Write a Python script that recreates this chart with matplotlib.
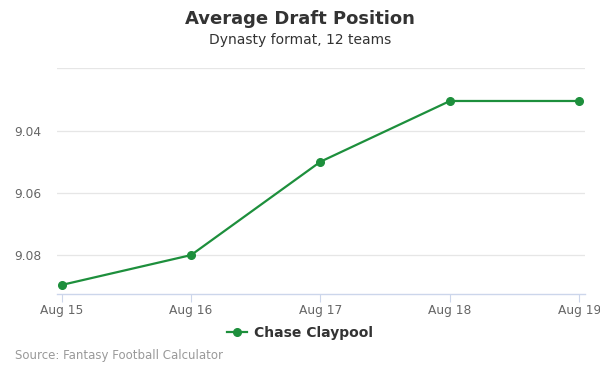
import matplotlib
matplotlib.use("Agg")
import matplotlib.pyplot as plt
from matplotlib.lines import Line2D

dates = ["Aug 15", "Aug 16", "Aug 17", "Aug 18", "Aug 19"]
adp = [9.0896, 9.08, 9.05, 9.0305, 9.0305]
yticks = [9.02, 9.04, 9.06, 9.08]
ytick_labels = ["", "9.04", "9.06", "9.08"]
series_name = "Chase Claypool"
color = "#1d8f3c"

fig = plt.figure(figsize=(6, 3.75), dpi=100)
ax = fig.add_axes([57/600, 1 - 294.3/375, (585-57)/600, (294.3-68.3)/375])

x = list(range(len(dates)))
ax.plot(x, adp, color=color, lw=1.6, marker="o", ms=5.5, zorder=3, clip_on=False)

ax.set_ylim(9.0926, 9.02)
ax.set_xlim(-0.036, 4.044)
ax.set_yticks(yticks)
ax.set_yticklabels(ytick_labels)
ax.set_xticks(x)
ax.set_xticklabels(dates)
ax.grid(axis="y", color="#e6e6e6", lw=0.9)
ax.set_axisbelow(True)
for s in ["top", "right", "left"]:
    ax.spines[s].set_visible(False)
ax.spines["bottom"].set_color("#ccd6eb")
ax.spines["bottom"].set_linewidth(1)
ax.tick_params(axis="y", length=0, labelsize=8.8, labelcolor="#666666", pad=11)
ax.tick_params(axis="x", length=6, color="#ccd6eb", labelsize=8.8, labelcolor="#666666", pad=1)

fig.text(0.5, 1 - 19/375, "Average Draft Position", ha="center", va="center",
         fontsize=13, fontweight="bold", color="#333333")
fig.text(0.5, 1 - 40/375, "Dynasty format, 12 teams", ha="center", va="center",
         fontsize=10, color="#333333")

handle = Line2D([0], [0], color=color, lw=1.6, marker="o", ms=5.5)
fig.legend([handle], [series_name], loc="center", bbox_to_anchor=(0.5, 1 - 333/375),
           frameon=False, handlelength=1.4, handletextpad=0.5,
           prop={"weight": "bold", "size": 10}, labelcolor="#333333")

fig.text(15/600, 1 - 356/375, "Source: Fantasy Football Calculator", ha="left", va="center",
         fontsize=8.5, color="#999999")

fig.savefig("out.png", dpi=100)
